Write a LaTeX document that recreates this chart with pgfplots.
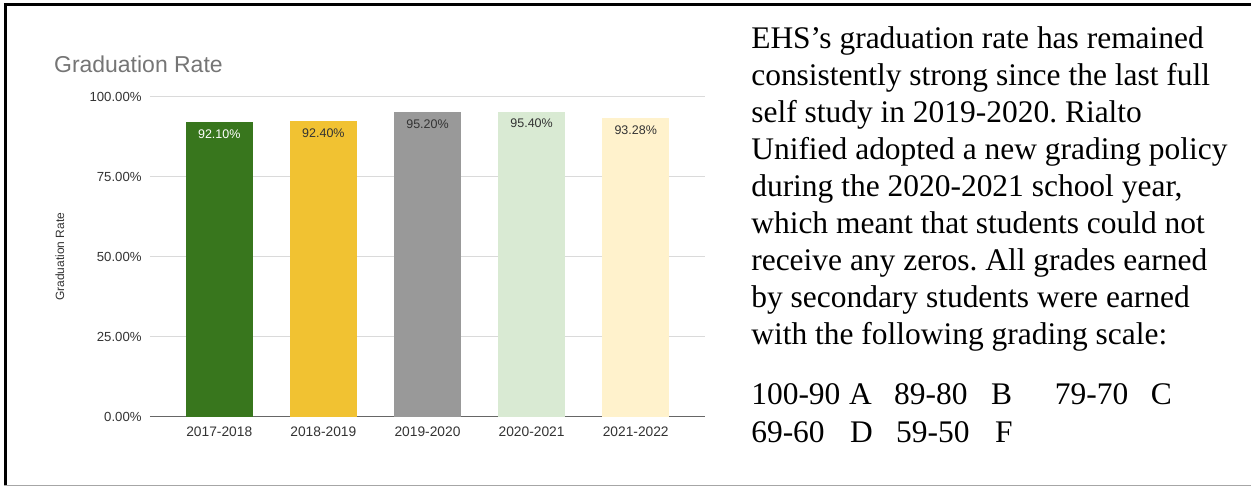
\documentclass[border=0pt]{standalone}
\usepackage{fontspec}
\setmainfont{Liberation Serif}
\newfontfamily\arial{Liberation Sans}
\usepackage{pgfplots}
\pgfplotsset{compat=1.18}
\definecolor{cA}{HTML}{38761D}
\definecolor{cB}{HTML}{F1C232}
\definecolor{cC}{HTML}{999999}
\definecolor{cD}{HTML}{D9EAD3}
\definecolor{cE}{HTML}{FFF2CC}
\definecolor{gridc}{HTML}{DADADA}
\definecolor{basec}{HTML}{666666}
\definecolor{labc}{HTML}{333333}
\definecolor{titc}{HTML}{757575}
\begin{document}
\frenchspacing
\begin{tikzpicture}
\begin{axis}[
  at={(150pt,70pt)}, anchor=south west,
  scale only axis, width=556pt, height=320pt,
  xmin=-0.667, xmax=4.667, ymin=0, ymax=100,
  axis x line*=bottom, axis y line*=left,
  y axis line style={draw=none},
  x axis line style={draw=basec, line width=1pt},
  major tick length=0pt,
  ymajorgrids, major grid style={draw=gridc, line width=1pt},
  ytick={0,25,50,75,100},
  /pgf/number format/assume math mode=true,
  yticklabel={\pgfmathprintnumber[fixed,fixed zerofill,precision=2]{\tick}\%},
  yticklabel style={anchor=east, inner sep=0pt, xshift=-8pt, text=labc, font=\arial\fontsize{13.2}{15}\selectfont},
  xtick={0,1,2,3,4},
  xticklabels={2017-2018,2018-2019,2019-2020,2020-2021,2021-2022},
  xticklabel style={anchor=north, inner sep=0pt, yshift=-10pt, text=labc, font=\arial\fontsize{13.8}{16}\selectfont},
  every axis plot/.append style={ybar, bar width=67pt, bar shift=0pt, draw=none},
  nodes near coords={\pgfmathprintnumber[fixed,fixed zerofill,precision=2]{\pgfplotspointmeta}\%},
  point meta=y,
  every node near coord/.append style={anchor=north, inner sep=0pt, yshift=-7pt, font=\arial\fontsize{12.5}{14}\selectfont},
]
\addplot[fill=cA, every node near coord/.append style={text=white}] coordinates {(0,92.10)};
\addplot[fill=cB, every node near coord/.append style={text=labc}] coordinates {(1,92.40)};
\addplot[fill=cC, every node near coord/.append style={text=labc}] coordinates {(2,95.20)};
\addplot[fill=cD, every node near coord/.append style={text=labc}] coordinates {(3,95.40)};
\addplot[fill=cE, every node near coord/.append style={text=labc}] coordinates {(4,93.28)};
\end{axis}
\begin{scope}[x=1pt,y=1pt]
% frame
\draw[line width=3pt,black] (4,482) -- (1252,482);
\draw[line width=3pt,black] (5.3,1) -- (5.3,483.5);
\draw[line width=1.5pt,gray!70] (4,1) -- (1252,1);
% chart title and y label
\node[anchor=base west,inner sep=0pt,text=titc,font=\arial\fontsize{23}{26}\selectfont] at (54,414) {Graduation Rate};
\node[rotate=90,inner sep=0pt,text=labc,font=\arial\fontsize{12}{14}\selectfont] at (60,230) {Graduation Rate};
% text block
\begin{scope}[every node/.style={anchor=base west,inner sep=0pt,font=\fontsize{31.5}{37}\selectfont}]
\node at (752,438) {EHS’s graduation rate has remained};
\node at (752,401) {consistently strong since the last full};
\node at (752,364) {self study in 2019-2020. Rialto};
\node at (752,327) {Unified adopted a new grading policy};
\node at (752,290) {during the 2020-2021 school year,};
\node at (752,253) {which meant that students could not};
\node at (752,216) {receive any zeros. All grades earned};
\node at (752,179) {by secondary students were earned};
\node at (752,142) {with the following grading scale:};
\node at (752,82) {100-90};
\node at (850,82) {A};
\node at (895,82) {89-80};
\node at (992,82) {B};
\node at (1056,82) {79-70};
\node at (1152,82) {C};
\node at (752,44) {69-60};
\node at (851,44) {D};
\node at (897,44) {59-50};
\node at (996,44) {F};
\end{scope}
\path (0,0) rectangle (1252,487);
\end{scope}
\end{tikzpicture}
\end{document}
